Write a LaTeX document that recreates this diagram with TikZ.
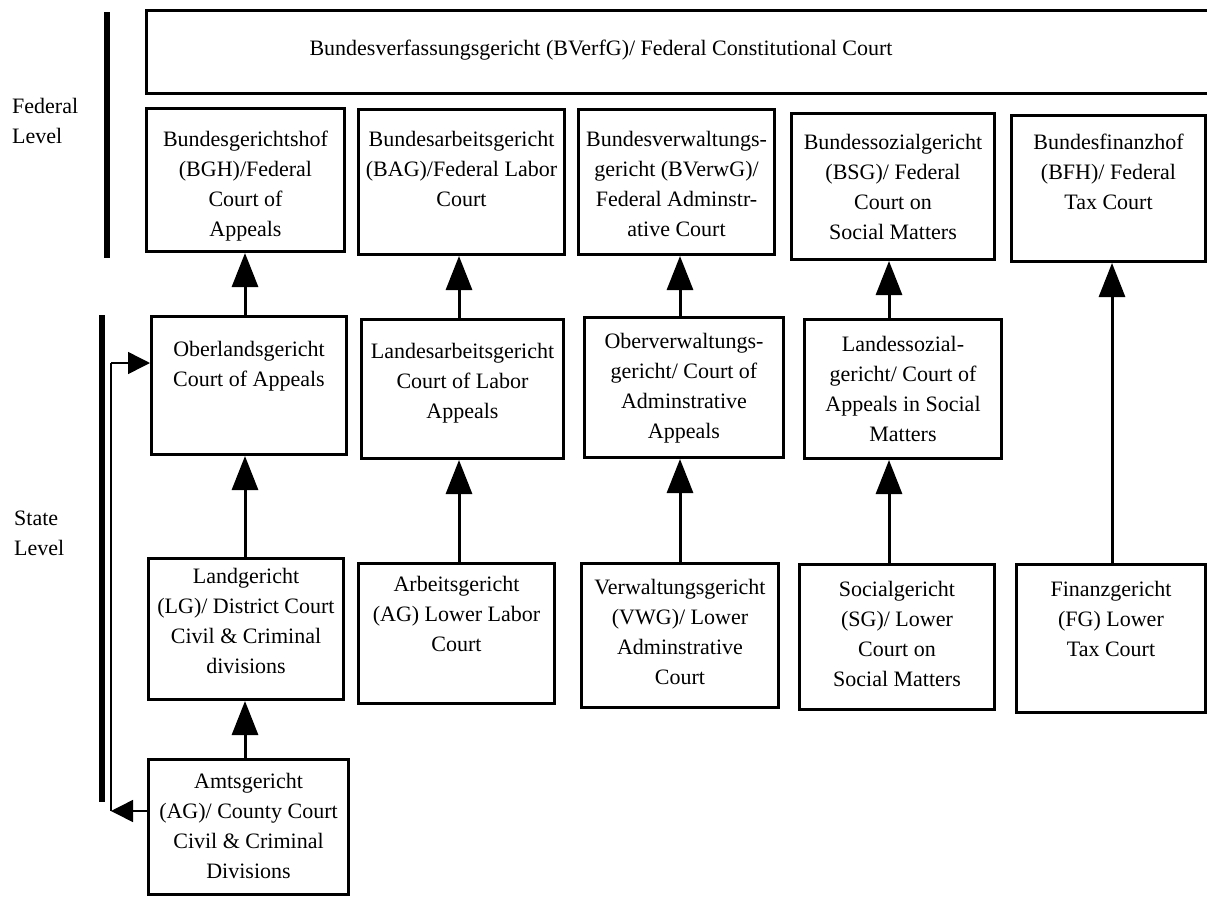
\documentclass[tikz,border=0pt]{standalone}
\usepackage{fontspec}
\setmainfont{Liberation Serif}
\usetikzlibrary{arrows.meta}
\tikzset{
  courtbox/.style={draw, line width=3pt, inner sep=0pt, anchor=north west},
  courttext/.style={anchor=north, align=center, inner sep=0pt, font=\fontsize{22}{30}\selectfont},
  uparrow/.style={line width=3pt, -{Triangle[length=34pt,width=26pt]}},
  sidearrow/.style={line width=1.5pt, -{Triangle[length=22pt,width=22pt]}},
  thinline/.style={line width=1.5pt},
  levelbar/.style={line width=6pt},
  leveltext/.style={anchor=north west, align=left, inner sep=0pt, font=\fontsize{22}{30}\selectfont},
}
% name, x1, y1, x2, y2, text offset, text
\newcommand\courtnode[7]{%
  \node[courtbox, minimum width={#4-#2}, minimum height={#5-#3}] (#1) at (#2,#3) {};
  \node[courttext] (#1t) at ([yshift=-#6pt]#1.north) {#7};
}
\begin{document}
\begin{tikzpicture}[x=1pt,y=-1pt]
\useasboundingbox (0,0) rectangle (1207,897);

% level bars and labels
\draw[levelbar] (107,12) coordinate (fb1) -- (107,258) coordinate (fb2);
\draw[levelbar] (102,315) coordinate (sb1) -- (102,802) coordinate (sb2);
\node[leveltext] (fedlevel) at (12,98) {Federal\\Level};
\node[leveltext] (statelevel) at (14,511) {State\\Level};

% constitutional court
\node[courtbox, minimum width=1070, minimum height=83] (BVerfG) at (145,9) {};
\node[courttext, anchor=center] (BVerfGt) at (601,50) {Bundesverfassungsgericht (BVerfG)/ Federal Constitutional Court};

% federal row
\courtnode{BGH}{145}{107}{343}{250}{24}{Bundesgerichtshof\\(BGH)/Federal\\Court of\\Appeals}
\courtnode{BAG}{357}{108}{563}{253}{23}{Bundesarbeitsgericht\\(BAG)/Federal Labor\\Court}
\courtnode{BVerwG}{577}{108}{773}{253}{23}{Bundesverwaltungs-\\gericht (BVerwG)/\\Federal Adminstr-\\ative Court}
\courtnode{BSG}{790}{112}{993}{258}{22}{Bundessozialgericht\\(BSG)/ Federal\\Court on\\Social Matters}
\courtnode{BFH}{1010}{114}{1204}{260}{20}{Bundesfinanzhof\\(BFH)/ Federal\\Tax Court}

% state appeal row
\courtnode{OLG}{150}{315}{345}{453}{26}{Oberlandsgericht\\Court of Appeals}
\courtnode{LAG}{360}{318}{562}{457}{25}{Landesarbeitsgericht\\Court of Labor\\Appeals}
\courtnode{OVG}{583}{316}{782}{456}{17}{Oberverwaltungs-\\gericht/ Court of\\Adminstrative\\Appeals}
\courtnode{LSG}{803}{318}{1000}{457}{18}{Landessozial-\\gericht/ Court of\\Appeals in Social\\Matters}

% lower row
\courtnode{LG}{147}{557}{342}{698}{11}{Landgericht\\(LG)/ District Court\\Civil \& Criminal\\divisions}
\courtnode{ArbG}{357}{562}{553}{702}{14}{Arbeitsgericht\\(AG) Lower Labor\\Court}
\courtnode{VWG}{580}{562}{777}{706}{17}{Verwaltungsgericht\\(VWG)/ Lower\\Adminstrative\\Court}
\courtnode{SG}{798}{563}{993}{708}{18}{Socialgericht\\(SG)/ Lower\\Court on\\Social Matters}
\courtnode{FG}{1015}{563}{1204}{711}{18}{Finanzgericht\\(FG) Lower\\Tax Court}
\courtnode{AG}{147}{758}{347}{893}{15}{Amtsgericht\\(AG)/ County Court\\Civil \& Criminal\\Divisions}

% vertical appeal arrows
\coordinate (c1) at (245,0);
\coordinate (c2) at (459,0);
\coordinate (c3) at (680,0);
\coordinate (c4) at (889,0);
\coordinate (c5) at (1112,0);
\draw[uparrow] (AG.north -| c1) -- (LG.south -| c1);
\draw[uparrow] (LG.north -| c1) -- (OLG.south -| c1);
\draw[uparrow] (OLG.north -| c1) -- (BGH.south -| c1);
\draw[uparrow] (ArbG.north -| c2) -- (LAG.south -| c2);
\draw[uparrow] (LAG.north -| c2) -- (BAG.south -| c2);
\draw[uparrow] (VWG.north -| c3) -- (OVG.south -| c3);
\draw[uparrow] (OVG.north -| c3) -- (BVerwG.south -| c3);
\draw[uparrow] (SG.north -| c4) -- (LSG.south -| c4);
\draw[uparrow] (LSG.north -| c4) -- (BSG.south -| c4);
\draw[uparrow] (FG.north -| c5) -- (BFH.south -| c5);

% side route from Amtsgericht to Oberlandsgericht
\coordinate (s1) at (111,811);
\coordinate (s2) at (111,363);
\draw[sidearrow] (AG.west |- s1) -- (s1);
\draw[thinline] (s1) -- (s2);
\draw[sidearrow] (s2) -- (OLG.west |- s2);
\end{tikzpicture}
\end{document}
